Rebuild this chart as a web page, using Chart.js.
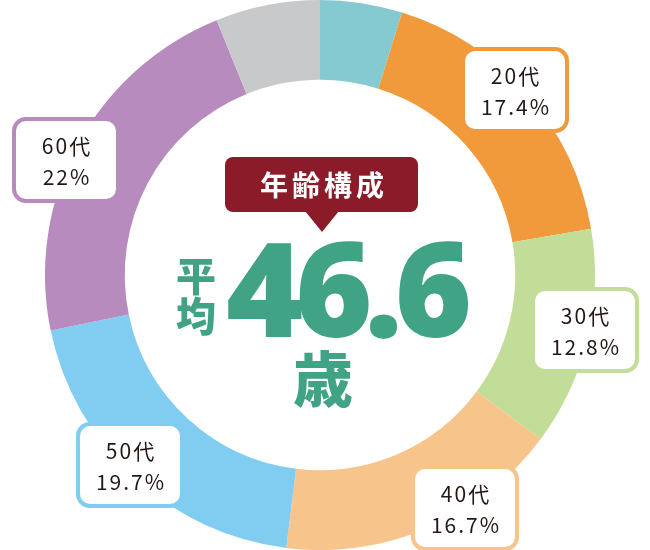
<!DOCTYPE html>
<html>
<head>
<meta charset="utf-8">
<script src="https://cdn.jsdelivr.net/npm/chart.js@4.4.1/dist/chart.umd.min.js"></script>
<style>
  html, body { margin: 0; padding: 0; background: #fff; }
  #wrap { width: 650px; height: 550px; position: relative; }
</style>
</head>
<body>
<div id="wrap"><canvas id="ageChart"></canvas></div>
<script>
// 年齢構成データ
const categories = ['10代', '20代', '30代', '40代', '50代', '60代', '70代'];
const shares = [4.8, 17.4, 12.8, 16.7, 19.7, 22, 6.1];
const shareLabels = ['', '17.4%', '12.8%', '16.7%', '19.7%', '22%', ''];
const colors = ['#84CAD0', '#F09A3B', '#C2DD97', '#F7C48B', '#81CCF1', '#B88BBE', '#C8C9CB'];
const averageAge = '46.6';

// ラベル枠の中心位置（見た目の調整用）
const boxCenters = [null, [515, 90], [585, 330], [465, 508], [130, 465], [66, 160], null];

function roundRect(c, x, y, w, h, r) {
    c.beginPath();
    c.moveTo(x + r, y);
    c.arcTo(x + w, y, x + w, y + h, r);
    c.arcTo(x + w, y + h, x, y + h, r);
    c.arcTo(x, y + h, x, y, r);
    c.arcTo(x, y, x + w, y, r);
    c.closePath();
}

const centerPlugin = {
    id: 'centerText',
    afterDraw(chart) {
        const c = chart.ctx;
        const meta = chart.getDatasetMeta(0);
        const cx = meta.data[0].x;
        const cy = meta.data[0].y;
        c.save();

        // 吹き出し
        c.fillStyle = '#8C1B2A';
        roundRect(c, cx - 95, cy - 118, 193, 55, 8);
        c.fill();
        c.beginPath();
        c.moveTo(cx - 15, cy - 64);
        c.lineTo(cx + 19, cy - 64);
        c.lineTo(cx + 2, cy - 43);
        c.closePath();
        c.fill();

        c.fillStyle = '#fff';
        c.textAlign = 'center';
        c.textBaseline = 'middle';
        c.font = 'bold 28px "Noto Sans CJK JP"';
        c.letterSpacing = '4px';
        c.fillText('年齢構成', cx + 4, cy - 90);

        // 平均 46.6 歳
        c.fillStyle = '#41A386';
        c.letterSpacing = '0px';
        c.font = '900 40px "Noto Sans CJK JP"';
        c.fillText('平', cx - 124, cy + 1);
        c.fillText('均', cx - 124, cy + 41);

        c.font = '900 132px "Noto Sans"';
        c.letterSpacing = '-8px';
        c.textBaseline = 'alphabetic';
        c.fillText(averageAge, cx + 25, cy + 62);

        c.letterSpacing = '0px';
        c.textBaseline = 'middle';
        c.font = '900 60px "Noto Sans CJK JP"';
        c.fillText('歳', cx + 3, cy + 104);

        // 各年代のラベル
        meta.data.forEach((arc, i) => {
            const pos = boxCenters[i];
            if (!pos) return;
            const w = 104, h = 82;
            const x = pos[0] - w / 2, y = pos[1] - h / 2;
            c.fillStyle = '#fff';
            c.strokeStyle = colors[i];
            c.lineWidth = 4;
            roundRect(c, x, y, w, h, 12);
            c.fill();
            c.stroke();
            c.fillStyle = '#231815';
            c.font = '21px "Noto Sans CJK JP"';
            c.letterSpacing = '2px';
            c.fillText(categories[i], pos[0] + 1, pos[1] - 14);
            c.fillText(shareLabels[i], pos[0] + 1, pos[1] + 17);
        });
        c.restore();
    }
};

const ctx = document.getElementById('ageChart').getContext('2d');
const ageChart = new Chart(ctx, {
    type: 'doughnut',
    data: {
        labels: categories,
        datasets: [{
            data: shares,
            backgroundColor: colors,
            borderWidth: 0
        }]
    },
    options: {
        responsive: true,
        maintainAspectRatio: false,
        animation: false,
        cutout: '71%',
        layout: { padding: { left: 0, right: 10, top: 0, bottom: 0 } },
        plugins: {
            legend: { display: false },
            tooltip: { enabled: false }
        }
    },
    plugins: [centerPlugin]
});
</script>
</body>
</html>
